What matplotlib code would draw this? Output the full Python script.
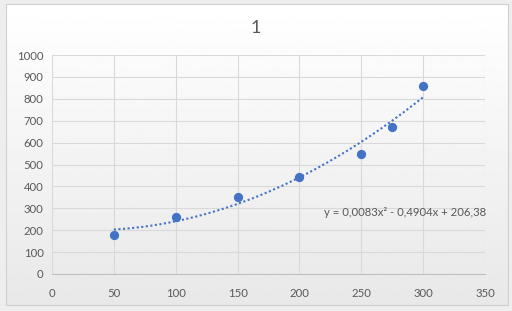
import numpy as np
import matplotlib.pyplot as plt
from matplotlib.patches import Rectangle

x = [50, 100, 150, 200, 250, 275, 300]
y = [180, 262, 353, 441, 550, 670, 860]
eq_label = "y = 0,0083x² - 0,4904x + 206,38"
title = "1"

plt.rcParams['font.family'] = ['Lato', 'DejaVu Sans']
blue = '#4472c4'
grey = '#595959'

fig = plt.figure(figsize=(5.12, 3.11), dpi=100)
fig.patch.set_facecolor('#eeeeee')

# chart area with a soft white-to-grey gradient
bg = fig.add_axes([0, 0, 1, 1], zorder=-10)
bg.set_xlim(0, 512)
bg.set_ylim(311, 0)
bg.axis('off')
grad = np.linspace(1.0, 0.91, 256).reshape(-1, 1)
bg.imshow(grad, cmap='gray', vmin=0, vmax=1, extent=[6, 508, 305, 4], aspect='auto')
bg.add_patch(Rectangle((6, 4), 502, 301, fill=False, edgecolor='#d0d0d0', lw=0.8))

ax = fig.add_axes([52/512, 1-274/311, (485-52)/512, (274-55)/311])
ax.set_facecolor('none')

ax.scatter(x, y, s=32, color=blue, zorder=3)
c = np.polyfit(x, y, 2)
xs = np.linspace(min(x), max(x), 200)
ax.plot(xs, np.polyval(c, xs), color=blue, lw=1.5, ls=(0, (1, 1.2)), zorder=2)

ax.set_xlim(0, 350)
ax.set_ylim(0, 1000)
ax.set_xticks(range(0, 351, 50))
ax.set_yticks(range(0, 1001, 100))
ax.grid(True, color='#d9d9d9', lw=0.8)
ax.set_axisbelow(True)
for s in ['top', 'right', 'left']:
    ax.spines[s].set_visible(False)
ax.spines['bottom'].set_color('#bfbfbf')
ax.tick_params(length=0, colors=grey, labelsize=8.2)
ax.tick_params(axis='x', pad=10)
ax.tick_params(axis='y', pad=6)

ax.text(324/512, 1-212/311, eq_label, transform=fig.transFigure, fontsize=8.2,
        color=grey, va='center', ha='left')
fig.text(0.5, 1-28/311, title, fontsize=13, color=grey, ha='center', va='center')

fig.savefig('out.png', dpi=100, facecolor=fig.get_facecolor())
